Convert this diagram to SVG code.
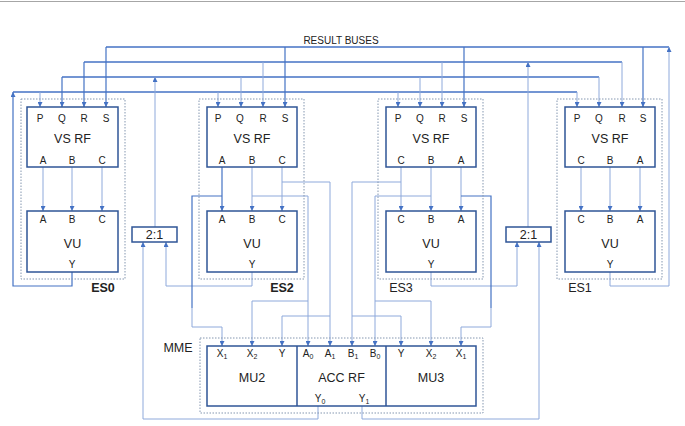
<svg xmlns="http://www.w3.org/2000/svg" width="685" height="426" viewBox="0 0 685 426">
<defs>
<marker id="ah" viewBox="0 0 5 5" refX="5" refY="2.5" markerWidth="5" markerHeight="5" markerUnits="userSpaceOnUse" orient="auto">
<path d="M0,0 L5,2.5 L0,5 z" fill="#4472C4"/>
</marker>
<style>
.bus{stroke:#4472C4;stroke-width:1.3;fill:none}
.dk{stroke:#4472C4;stroke-width:1.2;fill:none}
.ln{stroke:#8EA9DB;stroke-width:1;fill:none}
.ar{marker-end:url(#ah)}
.box{fill:#fff;stroke:#2F5597;stroke-width:1.5}
.dot{fill:none;stroke:#8497B0;stroke-width:1;stroke-dasharray:1.5 1.5}
.t{font-family:"Liberation Sans",Arial,sans-serif;fill:#222;text-anchor:middle}
.s{font-size:10px}
.m{font-size:12.5px}
.b{font-weight:bold}
</style>
</defs>
<rect width="685" height="426" fill="#fff"/>
<line x1="0" y1="1.5" x2="685" y2="1.5" stroke="#a6a6a6" stroke-width="1"/>
<text class="t s" x="341" y="44">RESULT BUSES</text>

<g id="connectors">
<!-- buses -->
<path class="bus" d="M106,47 H669"/>
<path class="bus" d="M84,62 H622"/>
<path class="bus" d="M62,77 H599"/>
<path class="bus" d="M13,92 H577"/>
<!-- drops to S -->
<path class="dk ar" d="M106,47 V107"/><path class="dk ar" d="M285,47 V107"/><path class="dk ar" d="M464,47 V107"/><path class="dk ar" d="M643,47 V107"/>
<!-- drops to R -->
<path class="dk ar" d="M84,62 V107"/><path class="ln ar" d="M263,62 V107"/><path class="ln ar" d="M442,62 V107"/><path class="ln ar" d="M622,62 V107"/>
<!-- drops to Q -->
<path class="dk ar" d="M62,77 V107"/><path class="ln ar" d="M241,77 V107"/><path class="ln ar" d="M420,77 V107"/><path class="ln ar" d="M599,77 V107"/>
<!-- drops to P -->
<path class="ln ar" d="M40,92 V107"/><path class="ln ar" d="M218,92 V107"/><path class="ln ar" d="M398,92 V107"/><path class="ln ar" d="M577,92 V107"/>
<!-- bus sources -->
<path class="ln ar" d="M610,272 V286 H669 V47"/>
<path class="ln ar" d="M528,227 V62"/>
<path class="ln ar" d="M155,227 V77"/>
<path class="dk ar" d="M72,272 V286 H13 V92"/>
<!-- 2:1 inputs -->
<path class="ln ar" d="M252,272 V286 H166 V242"/>
<path class="ln ar" d="M318,406 V419 H143 V242"/>
<path class="ln ar" d="M431,272 V286 H517 V242"/>
<path class="ln ar" d="M362,406 V419 H539 V242"/>
<!-- VS RF to VU -->
<path class="ln ar" d="M43,167 V211"/><path class="ln ar" d="M72,167 V211"/><path class="ln ar" d="M102,167 V211"/>
<path class="dk ar" d="M222,167 V211"/><path class="ln ar" d="M252,167 V211"/><path class="ln ar" d="M282,167 V211"/>
<path class="ln ar" d="M401,167 V211"/><path class="ln ar" d="M431,167 V211"/><path class="ln ar" d="M461,167 V211"/>
<path class="ln ar" d="M581,167 V211"/><path class="ln ar" d="M610,167 V211"/><path class="ln ar" d="M640,167 V211"/>
<!-- ES2 to MME -->
<path class="dk" d="M222,196 H192 V308"/>
<path class="ln ar" d="M192,308 V327 H222 V346"/>
<path class="ln ar" d="M252,196 H308 V346"/>
<path class="ln ar" d="M308,301 H252 V346"/>
<path class="ln ar" d="M282,182 H330 V346"/>
<path class="ln ar" d="M330,316 H282 V346"/>
<!-- ES3 to MME -->
<path class="ln ar" d="M401,182 H352 V346"/>
<path class="ln ar" d="M352,316 H401 V346"/>
<path class="ln ar" d="M431,196 H375 V346"/>
<path class="ln ar" d="M375,301 H431 V346"/>
<path class="dk" d="M461,196 H491 V308"/>
<path class="ln ar" d="M491,308 V327 H461 V346"/>
</g>

<g id="ES0">
<rect class="dot" x="21" y="99" width="104" height="180"/>
<rect class="box" x="27" y="107" width="91" height="60"/>
<rect class="box" x="27" y="211" width="91" height="61"/>
<text class="t s" x="40" y="121.5">P</text><text class="t s" x="62" y="121.5">Q</text><text class="t s" x="84" y="121.5">R</text><text class="t s" x="106" y="121.5">S</text>
<text class="t m" x="72.5" y="142.5">VS RF</text>
<text class="t s" x="43" y="163.5">A</text><text class="t s" x="72" y="163.5">B</text><text class="t s" x="102" y="163.5">C</text>
<text class="t s" x="43" y="222.5">A</text><text class="t s" x="72" y="222.5">B</text><text class="t s" x="102" y="222.5">C</text>
<text class="t m" x="72.5" y="247.5">VU</text>
<text class="t s" x="72" y="267.5">Y</text>
<text class="t m b" x="103" y="291.5">ES0</text>
</g>

<g id="ES2">
<rect class="dot" x="199" y="99" width="105" height="180"/>
<rect class="box" x="207" y="107" width="90" height="60"/>
<rect class="box" x="207" y="211" width="90" height="61"/>
<text class="t s" x="218" y="121.5">P</text><text class="t s" x="240" y="121.5">Q</text><text class="t s" x="263" y="121.5">R</text><text class="t s" x="285" y="121.5">S</text>
<text class="t m" x="252" y="142.5">VS RF</text>
<text class="t s" x="222" y="163.5">A</text><text class="t s" x="252" y="163.5">B</text><text class="t s" x="282" y="163.5">C</text>
<text class="t s" x="222" y="222.5">A</text><text class="t s" x="252" y="222.5">B</text><text class="t s" x="282" y="222.5">C</text>
<text class="t m" x="252" y="247.5">VU</text>
<text class="t s" x="252" y="267.5">Y</text>
<text class="t m b" x="282" y="291.5">ES2</text>
</g>

<g id="ES3">
<rect class="dot" x="378" y="99" width="105" height="180"/>
<rect class="box" x="386" y="107" width="90" height="60"/>
<rect class="box" x="386" y="211" width="90" height="61"/>
<text class="t s" x="398" y="121.5">P</text><text class="t s" x="420" y="121.5">Q</text><text class="t s" x="442" y="121.5">R</text><text class="t s" x="464" y="121.5">S</text>
<text class="t m" x="431" y="142.5">VS RF</text>
<text class="t s" x="401" y="163.5">C</text><text class="t s" x="431" y="163.5">B</text><text class="t s" x="461" y="163.5">A</text>
<text class="t s" x="401" y="222.5">C</text><text class="t s" x="431" y="222.5">B</text><text class="t s" x="461" y="222.5">A</text>
<text class="t m" x="431" y="247.5">VU</text>
<text class="t s" x="431" y="267.5">Y</text>
<text class="t m" x="401" y="291.5">ES3</text>
</g>

<g id="ES1">
<rect class="dot" x="557" y="99" width="105" height="180"/>
<rect class="box" x="565" y="107" width="90" height="60"/>
<rect class="box" x="565" y="211" width="90" height="61"/>
<text class="t s" x="577" y="121.5">P</text><text class="t s" x="599" y="121.5">Q</text><text class="t s" x="622" y="121.5">R</text><text class="t s" x="643" y="121.5">S</text>
<text class="t m" x="610" y="142.5">VS RF</text>
<text class="t s" x="581" y="163.5">C</text><text class="t s" x="610" y="163.5">B</text><text class="t s" x="640" y="163.5">A</text>
<text class="t s" x="581" y="222.5">C</text><text class="t s" x="610" y="222.5">B</text><text class="t s" x="640" y="222.5">A</text>
<text class="t m" x="610" y="247.5">VU</text>
<text class="t s" x="610" y="267.5">Y</text>
<text class="t m" x="580" y="291.5">ES1</text>
</g>

<g id="MUX-left">
<rect class="box" x="132" y="227" width="45" height="15"/>
<text class="t m" x="154.5" y="238.5">2:1</text>
</g>
<g id="MUX-right">
<rect class="box" x="506" y="227" width="45" height="15"/>
<text class="t m" x="528.5" y="238.5">2:1</text>
</g>

<g id="MME">
<rect class="dot" x="200" y="338" width="283" height="75"/>
<rect class="box" x="207" y="346" width="269" height="60"/>
<line x1="297" y1="346" x2="297" y2="406" stroke="#2F5597" stroke-width="1.5"/>
<line x1="386" y1="346" x2="386" y2="406" stroke="#2F5597" stroke-width="1.5"/>
<text class="t m" x="178" y="351.5">MME</text>
<text class="t s" x="222" y="356.5">X<tspan font-size="7" dy="2">1</tspan></text>
<text class="t s" x="252" y="356.5">X<tspan font-size="7" dy="2">2</tspan></text>
<text class="t s" x="282" y="356.5">Y</text>
<text class="t s" x="308" y="356.5">A<tspan font-size="7" dy="2">0</tspan></text>
<text class="t s" x="330" y="356.5">A<tspan font-size="7" dy="2">1</tspan></text>
<text class="t s" x="353" y="356.5">B<tspan font-size="7" dy="2">1</tspan></text>
<text class="t s" x="375" y="356.5">B<tspan font-size="7" dy="2">0</tspan></text>
<text class="t s" x="401" y="356.5">Y</text>
<text class="t s" x="431" y="356.5">X<tspan font-size="7" dy="2">2</tspan></text>
<text class="t s" x="461" y="356.5">X<tspan font-size="7" dy="2">1</tspan></text>
<text class="t m" x="252" y="381.5">MU2</text>
<text class="t m" x="341.5" y="381.5">ACC RF</text>
<text class="t m" x="431" y="381.5">MU3</text>
<text class="t s" x="320" y="401.5">Y<tspan font-size="7" dy="2">0</tspan></text>
<text class="t s" x="364" y="401.5">Y<tspan font-size="7" dy="2">1</tspan></text>
</g>
</svg>
